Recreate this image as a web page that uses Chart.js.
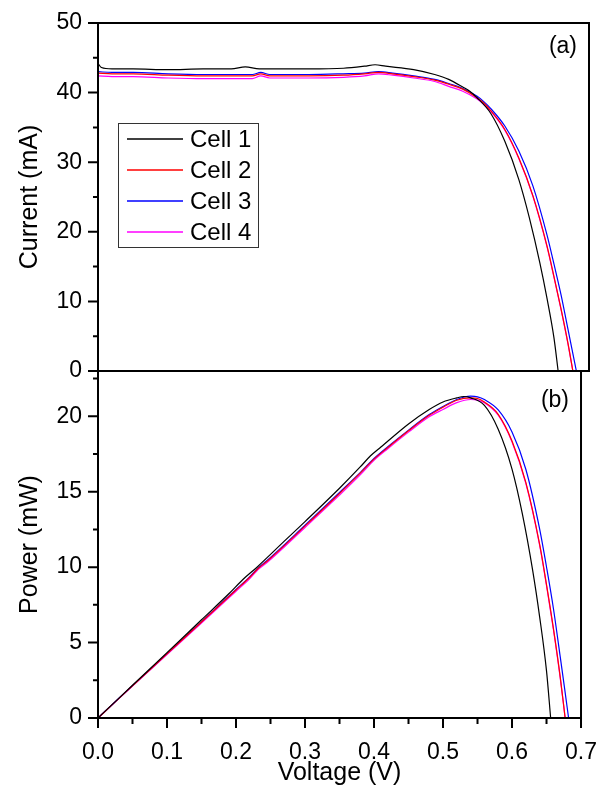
<!DOCTYPE html>
<html><head><meta charset="utf-8">
<script src="https://cdn.jsdelivr.net/npm/chart.js@4"></script>
<style>
html,body{margin:0;padding:0;background:#fff;}
#wrap{position:relative;width:608px;height:790px;background:#fff;}
canvas{position:absolute;left:0;top:0;}
</style></head><body>
<div id="wrap"><canvas id="c1" width="608" height="790"></canvas><canvas id="c2" width="608" height="790"></canvas></div>
<script>
// ---------- data ----------
const cellNames = ['Cell 1', 'Cell 2', 'Cell 3', 'Cell 4'];
const cellColors = ['#000000', '#ff0000', '#0000ff', '#ff00ff'];

// Cell 1 (voltage V, current mA, power mW)
const v1 = [0, 0.005, 0.02, 0.05, 0.1, 0.15, 0.19, 0.21, 0.23, 0.27, 0.3, 0.35, 0.38, 0.395, 0.41, 0.45, 0.48, 0.5, 0.52, 0.53, 0.54, 0.56, 0.58, 0.6, 0.615, 0.63, 0.64, 0.65, 0.656];
const i1 = [44.2, 43.6, 43.4, 43.4, 43.3, 43.4, 43.4, 43.7, 43.4, 43.4, 43.4, 43.5, 43.8, 44.0, 43.8, 43.3, 42.6, 41.9, 40.8, 40.2, 39.3, 37.0, 33.0, 27.5, 22.0, 15.5, 10.5, 4.8, 0];
const p1 = [0, 0.22, 0.87, 2.17, 4.33, 6.51, 8.25, 9.18, 9.98, 11.72, 13.02, 15.23, 16.64, 17.38, 17.96, 19.49, 20.45, 20.95, 21.22, 21.31, 21.22, 20.72, 19.14, 16.5, 13.53, 9.77, 6.72, 3.12, 0];

// Cell 2
const v2 = [0, 0.02, 0.05, 0.1, 0.15, 0.2, 0.22, 0.232, 0.245, 0.3, 0.35, 0.38, 0.4, 0.42, 0.45, 0.48, 0.5, 0.52, 0.54, 0.55, 0.56, 0.58, 0.6, 0.62, 0.64, 0.65, 0.66, 0.67, 0.677];
const i2 = [42.8, 42.7, 42.7, 42.5, 42.4, 42.4, 42.4, 42.7, 42.4, 42.4, 42.5, 42.7, 42.9, 42.7, 42.3, 41.8, 41.2, 40.5, 39.3, 38.5, 37.4, 34.7, 30.6, 25.2, 18.0, 13.6, 9.0, 4.0, 0];
const p2 = [0, 0.85, 2.14, 4.25, 6.36, 8.48, 9.33, 9.91, 10.39, 12.72, 14.88, 16.23, 17.16, 17.93, 19.04, 20.06, 20.6, 21.06, 21.22, 21.18, 20.94, 20.13, 18.36, 15.62, 11.52, 8.84, 5.94, 2.68, 0];

// Cell 3
const v3 = [0, 0.02, 0.05, 0.1, 0.15, 0.2, 0.22, 0.232, 0.245, 0.3, 0.35, 0.38, 0.4, 0.42, 0.45, 0.48, 0.5, 0.52, 0.54, 0.55, 0.56, 0.58, 0.6, 0.62, 0.64, 0.65, 0.66, 0.67, 0.676, 0.682];
const i3 = [43.0, 42.9, 42.9, 42.7, 42.6, 42.6, 42.6, 42.9, 42.6, 42.6, 42.7, 42.8, 43.0, 42.8, 42.4, 41.9, 41.3, 40.6, 39.5, 38.7, 37.7, 35.2, 31.6, 26.6, 19.6, 15.4, 11.0, 6.0, 3.0, 0];
const p3 = [0, 0.86, 2.15, 4.27, 6.39, 8.52, 9.37, 9.95, 10.44, 12.78, 14.95, 16.26, 17.2, 17.98, 19.08, 20.11, 20.65, 21.11, 21.33, 21.29, 21.11, 20.42, 18.96, 16.49, 12.54, 10.01, 7.26, 4.02, 2.03, 0];

// Cell 4
const v4 = [0, 0.02, 0.05, 0.1, 0.15, 0.2, 0.22, 0.232, 0.245, 0.3, 0.35, 0.38, 0.4, 0.42, 0.45, 0.48, 0.5, 0.52, 0.54, 0.55, 0.56, 0.58, 0.6, 0.62, 0.64, 0.65, 0.66, 0.67, 0.677];
const i4 = [42.4, 42.3, 42.3, 42.1, 42.0, 42.0, 42.0, 42.4, 42.1, 42.1, 42.2, 42.4, 42.7, 42.5, 42.1, 41.6, 40.9, 40.2, 39.1, 38.3, 37.3, 34.6, 30.5, 25.1, 17.9, 13.5, 8.9, 3.9, 0];
const p4 = [0, 0.85, 2.12, 4.21, 6.3, 8.4, 9.24, 9.84, 10.31, 12.63, 14.77, 16.11, 17.08, 17.85, 18.95, 19.97, 20.45, 20.9, 21.11, 21.07, 20.89, 20.07, 18.3, 15.56, 11.46, 8.78, 5.87, 2.61, 0];

// ticks
const voltageTicks = [0, 0.1, 0.2, 0.3, 0.4, 0.5, 0.6, 0.7];
const voltageMinorTicks = [0.05, 0.15, 0.25, 0.35, 0.45, 0.55, 0.65];
const currentTicks = [0, 10, 20, 30, 40, 50];
const currentMinorTicks = [5, 15, 25, 35, 45];
const powerTicks = [0, 5, 10, 15, 20];
const powerMinorTicks = [2.5, 7.5, 12.5, 17.5, 22.5];

// ---------- build ----------
Chart.defaults.font.family = "'Liberation Sans', Arial, sans-serif";
Chart.defaults.color = '#000';

const pts = (xs, ys) => xs.map((x, k) => ({x: x, y: ys[k]}));
const volts = [v1, v2, v3, v4];
const currents = [i1, i2, i3, i4];
const powers = [p1, p2, p3, p4];

function makeSets(values) {
  return cellNames.map((n, k) => ({
    label: n,
    data: pts(volts[k], values[k]),
    borderColor: cellColors[k],
    backgroundColor: cellColors[k],
    borderWidth: 1.2,
    pointRadius: 0,
    cubicInterpolationMode: 'monotone',
    fill: false
  }));
}

function tickMarks(ctx, scale, values, len, vertical) {
  ctx.beginPath();
  values.forEach(v => {
    const p = scale.getPixelForValue(v);
    if (vertical) { ctx.moveTo(scale.right - len, p); ctx.lineTo(scale.right, p); }
    else { ctx.moveTo(p, scale.top); ctx.lineTo(p, scale.top + len); }
  });
  ctx.stroke();
}

const hiddenGrid = {display: true, drawOnChartArea: false, color: 'rgba(0,0,0,0)', tickLength: 10};

const topPlugin = {
  id: 'topDecor',
  afterDraw(chart) {
    const ctx = chart.ctx, ca = chart.chartArea, ys = chart.scales.y;
    ctx.save();
    ctx.strokeStyle = '#000';
    ctx.lineWidth = 2;
    ctx.strokeRect(ca.left, ca.top, ca.right - ca.left, ca.bottom - ca.top);
    tickMarks(ctx, ys, currentTicks, 10, true);
    tickMarks(ctx, ys, currentMinorTicks, 5, true);
    // legend
    const bx = ca.left + 20, by = ca.top + 100, bw = 140, bh = 124;
    ctx.fillStyle = '#fff';
    ctx.fillRect(bx, by, bw, bh);
    ctx.lineWidth = 1;
    ctx.strokeStyle = '#333';
    ctx.strokeRect(bx + 0.5, by + 0.5, bw, bh);
    ctx.font = "24px 'Liberation Sans', Arial, sans-serif";
    ctx.textBaseline = 'middle';
    ctx.textAlign = 'left';
    chart.data.datasets.forEach((ds, k) => {
      const ry = by + 16 + k * 31;
      ctx.strokeStyle = ds.borderColor;
      ctx.lineWidth = 1.5;
      ctx.beginPath(); ctx.moveTo(bx + 9, ry); ctx.lineTo(bx + 65, ry); ctx.stroke();
      ctx.fillStyle = '#000';
      ctx.fillText(ds.label, bx + 72, ry + 1);
    });
    ctx.font = "23px 'Liberation Sans', Arial, sans-serif";
    ctx.textAlign = 'right';
    ctx.fillText('(a)', ca.right - 12, ca.top + 24);
    ctx.restore();
  }
};

const bottomPlugin = {
  id: 'bottomDecor',
  afterDraw(chart) {
    const ctx = chart.ctx, ca = chart.chartArea, ys = chart.scales.y, xs = chart.scales.x;
    ctx.save();
    ctx.strokeStyle = '#000';
    ctx.lineWidth = 2;
    ctx.strokeRect(ca.left, ca.top, ca.right - ca.left, ca.bottom - ca.top);
    tickMarks(ctx, ys, powerTicks, 10, true);
    tickMarks(ctx, ys, powerMinorTicks, 5, true);
    tickMarks(ctx, xs, voltageTicks, 10, false);
    tickMarks(ctx, xs, voltageMinorTicks, 6, false);
    ctx.fillStyle = '#000';
    ctx.font = "23px 'Liberation Sans', Arial, sans-serif";
    ctx.textAlign = 'right';
    ctx.textBaseline = 'middle';
    ctx.fillText('(b)', ca.right - 12, ca.top + 30);
    ctx.restore();
  }
};

new Chart(document.getElementById('c1'), {
  type: 'line',
  data: {datasets: makeSets(currents)},
  options: {
    responsive: false, animation: false,
    layout: {padding: {left: 0, right: 19, top: 23, bottom: 419}},
    plugins: {legend: {display: false}, tooltip: {enabled: false}},
    scales: {
      x: {type: 'linear', min: 0, max: 0.7, display: false},
      y: {
        type: 'linear', min: 0, max: 50,
        afterFit(s) { s.width = 98; },
        afterBuildTicks(s) { s.ticks = currentTicks.map(v => ({value: v})); },
        ticks: {color: '#000', font: {size: 23}, padding: 6, callback: v => String(v)},
        grid: hiddenGrid,
        border: {display: false},
        title: {display: true, text: 'Current (mA)', color: '#000', font: {size: 25}, padding: {top: 15, bottom: 0}}
      }
    }
  },
  plugins: [topPlugin]
});

new Chart(document.getElementById('c2'), {
  type: 'line',
  data: {datasets: makeSets(powers)},
  options: {
    responsive: false, animation: false,
    layout: {padding: {left: 0, right: 19, top: 371, bottom: 0}},
    plugins: {legend: {display: false}, tooltip: {enabled: false}},
    scales: {
      x: {
        type: 'linear', min: 0, max: 0.7,
        afterFit(s) { s.height = 72; },
        afterBuildTicks(s) { s.ticks = voltageTicks.map(v => ({value: v})); },
        ticks: {color: '#000', font: {size: 23}, padding: 11, maxRotation: 0, autoSkip: false, callback: v => Number(v).toFixed(1)},
        grid: hiddenGrid,
        border: {display: false},
        title: {display: true, text: 'Voltage (V)', color: '#000', font: {size: 25}, padding: {top: 0, bottom: 2}}
      },
      y: {
        type: 'linear', min: 0, max: 23,
        afterFit(s) { s.width = 98; },
        afterBuildTicks(s) { s.ticks = powerTicks.map(v => ({value: v})); },
        ticks: {color: '#000', font: {size: 23}, padding: 6, callback: v => String(v)},
        grid: hiddenGrid,
        border: {display: false},
        title: {display: true, text: 'Power (mW)', color: '#000', font: {size: 25}, padding: {top: 15, bottom: 0}}
      }
    }
  },
  plugins: [bottomPlugin]
});
</script>
</body></html>
